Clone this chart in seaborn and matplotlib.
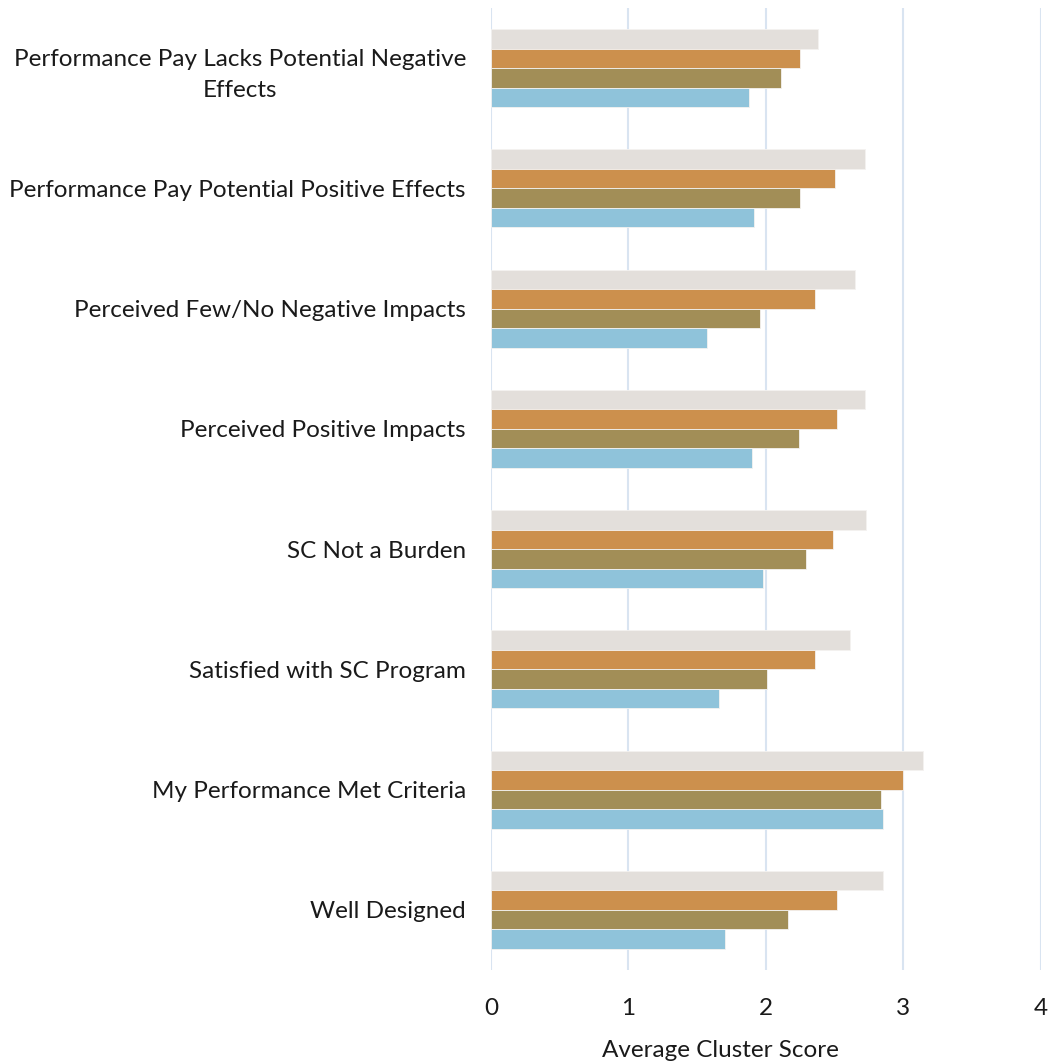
import matplotlib
matplotlib.use("Agg")
import matplotlib.pyplot as plt
import seaborn as sns
import pandas as pd

categories = [
    "Performance Pay Lacks Potential Negative\nEffects",
    "Performance Pay Potential Positive Effects",
    "Perceived Few/No Negative Impacts",
    "Perceived Positive Impacts",
    "SC Not a Burden",
    "Satisfied with SC Program",
    "My Performance Met Criteria",
    "Well Designed",
]
series_names = ["Series 1", "Series 2", "Series 3", "Series 4"]
series_1 = [2.38, 2.72, 2.65, 2.72, 2.73, 2.61, 3.14, 2.85]
series_2 = [2.25, 2.50, 2.36, 2.52, 2.49, 2.36, 3.00, 2.52]
series_3 = [2.11, 2.25, 1.96, 2.24, 2.29, 2.01, 2.84, 2.16]
series_4 = [1.88, 1.91, 1.57, 1.90, 1.98, 1.66, 2.85, 1.70]
x_ticks = [0, 1, 2, 3, 4]
x_label = "Average Cluster Score"

colors = ["#E3DFDB", "#CC904D", "#A28E57", "#8FC3DA"]

rows = []
for name, vals in zip(series_names, [series_1, series_2, series_3, series_4]):
    for cat, v in zip(categories, vals):
        rows.append({"category": cat, "series": name, "score": v})
df = pd.DataFrame(rows)

sns.set_theme(style="white")
plt.rcParams["font.family"] = ["Lato", "DejaVu Sans"]

fig = plt.figure(figsize=(10.5, 10.63), dpi=100)
ax = fig.add_axes([0.4676, 0.0875, 0.5238, 0.905])

sns.barplot(
    data=df, y="category", x="score", hue="series",
    order=categories, hue_order=series_names, palette=colors,
    orient="h", width=0.65, dodge=True, legend=False,
    edgecolor="#F4F2F0", linewidth=0.6, saturation=1, ax=ax,
)

ax.set_xlim(0, 4)
ax.set_xticks(x_ticks)
ax.set_xticklabels([str(t) for t in x_ticks])
ax.set_ylabel("")
ax.set_xlabel(x_label, fontsize=17.5, color="#1a1a1a")
ax.xaxis.set_label_coords(0.418, -0.073)
ax.xaxis.grid(True, color="#D9E4F1", linewidth=1.5)
ax.yaxis.grid(False)
ax.set_axisbelow(True)
for s in ax.spines.values():
    s.set_visible(False)
ax.tick_params(axis="x", length=0, pad=20, labelsize=17.5, labelcolor="#1a1a1a")
ax.tick_params(axis="y", length=0, pad=18, labelsize=17.5, labelcolor="#1a1a1a")
for lbl in ax.get_yticklabels():
    lbl.set_multialignment("center")
    lbl.set_linespacing(1.6)

fig.savefig("out.png", dpi=100)
